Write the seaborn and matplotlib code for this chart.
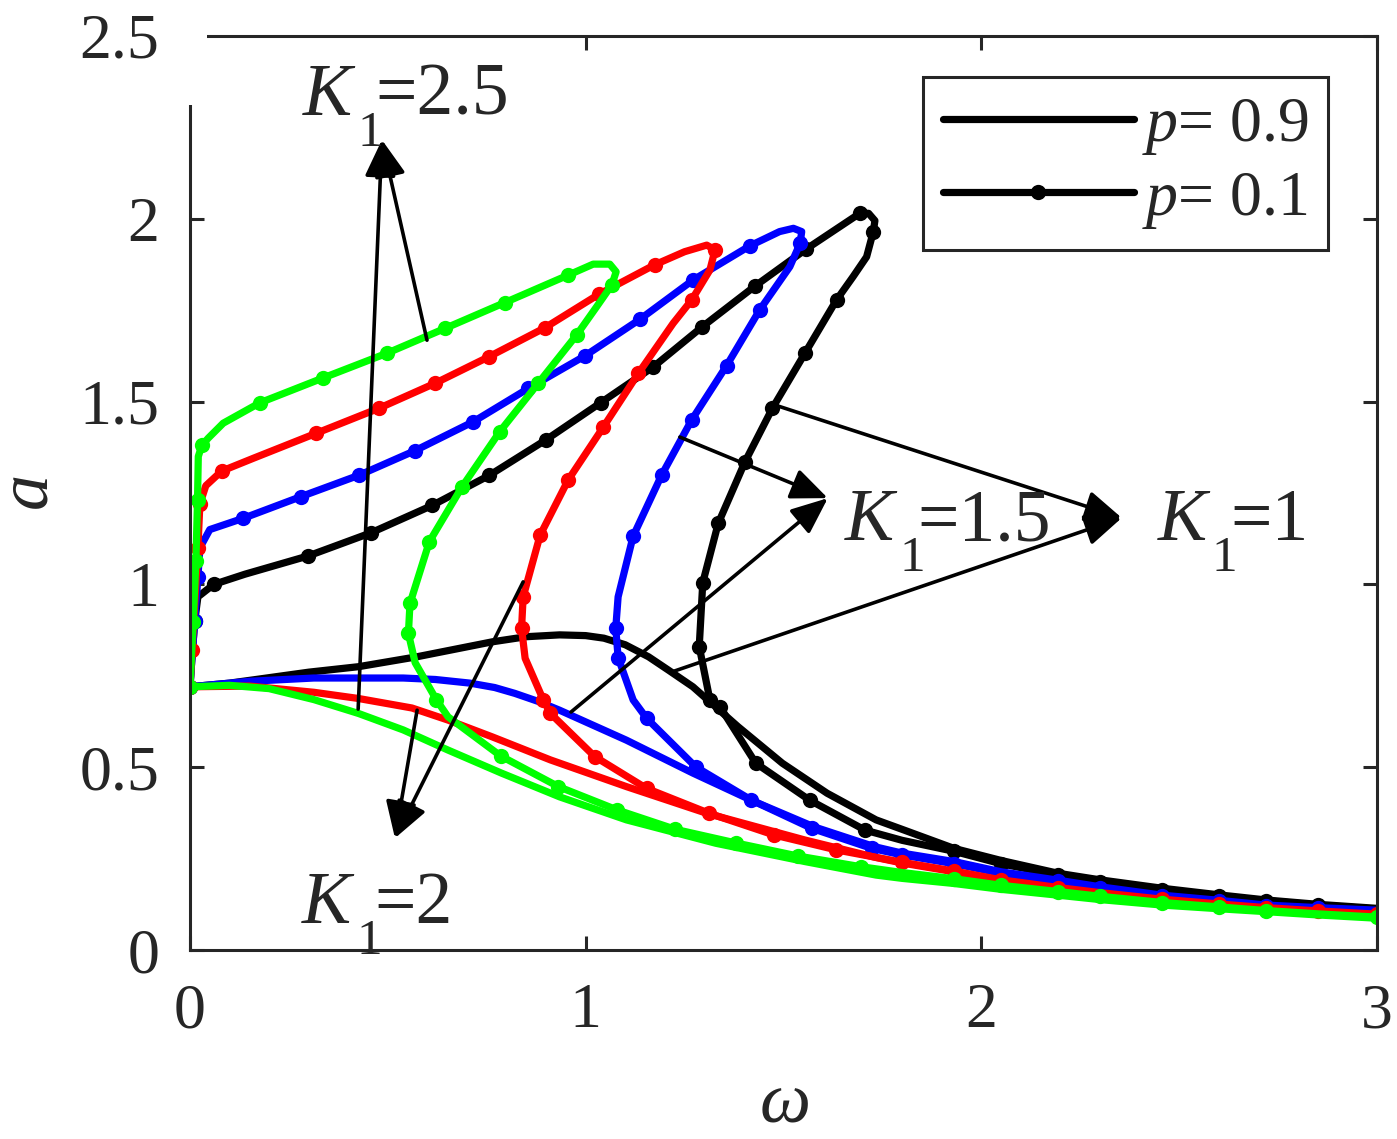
import numpy as np
import pandas as pd
import seaborn as sns
import matplotlib.pyplot as plt
from matplotlib.lines import Line2D
from matplotlib.patches import Rectangle
from matplotlib.transforms import offset_copy

# amplitude-frequency curves, p = 0.9 (plain lines)
w_k1_p9 = [0, 0.1, 0.2, 0.3, 0.426, 0.573, 0.764, 0.85, 0.934, 1.0, 1.046, 1.1, 1.159, 1.21, 1.271, 1.385, 1.497, 1.610,
           1.734, 1.8, 1.931, 2.05, 2.194, 2.3, 2.457, 2.6, 2.719, 2.85, 3.0]
a_k1_p9 = [0.72, 0.73, 0.745, 0.76, 0.775, 0.802, 0.843, 0.857, 0.862, 0.860, 0.853, 0.835, 0.802, 0.765, 0.720, 0.611,
           0.511, 0.429, 0.356, 0.330, 0.278, 0.245, 0.210, 0.192, 0.169, 0.151, 0.137, 0.125, 0.114]

w_k15_p9 = [0, 0.15, 0.313, 0.539, 0.62, 0.708, 0.77, 0.821, 0.88, 0.934, 1.103, 1.271, 1.418, 1.577, 1.729, 1.8, 1.931,
            2.05, 2.194, 2.3, 2.457, 2.6, 2.719, 2.85, 3.0]
a_k15_p9 = [0.72, 0.735, 0.744, 0.744, 0.740, 0.730, 0.718, 0.702, 0.680, 0.656, 0.574, 0.484, 0.410, 0.337, 0.283, 0.265,
            0.242, 0.214, 0.191, 0.173, 0.150, 0.136, 0.123, 0.116, 0.109]

w_k2_p9 = [0, 0.15, 0.313, 0.426, 0.561, 0.652, 0.764, 0.911, 1.103, 1.306, 1.554, 1.734, 1.8, 1.931, 2.05, 2.194, 2.3,
           2.457, 2.6, 2.719, 2.85, 3.0]
a_k2_p9 = [0.72, 0.722, 0.705, 0.688, 0.662, 0.629, 0.583, 0.520, 0.447, 0.374, 0.301, 0.253, 0.238, 0.214, 0.190, 0.169,
           0.155, 0.137, 0.124, 0.114, 0.105, 0.096]

w_k25_p9 = [0, 0.1, 0.2, 0.313, 0.426, 0.539, 0.652, 0.787, 0.934, 1.103, 1.329, 1.554, 1.734, 1.8, 1.931, 2.05, 2.194,
            2.3, 2.457, 2.6, 2.719, 2.85, 3.0]
a_k25_p9 = [0.72, 0.724, 0.715, 0.685, 0.647, 0.602, 0.547, 0.484, 0.419, 0.356, 0.292, 0.242, 0.205, 0.196, 0.182, 0.166,
            0.150, 0.138, 0.123, 0.113, 0.105, 0.096, 0.087]

# p = 0.1 (line with dots), each traced along the whole loop
w_k1_p1 = [0, 0.005, 0.012, 0.02, 0.06, 0.139, 0.299, 0.457, 0.612, 0.756, 0.899, 1.038, 1.171, 1.295, 1.428, 1.557, 1.693,
           1.715, 1.731, 1.727, 1.710, 1.676, 1.634, 1.554, 1.472, 1.403, 1.335, 1.296, 1.287, 1.314, 1.339, 1.430, 1.566,
           1.706, 1.8, 1.931, 2.05, 2.194, 2.3, 2.457, 2.6, 2.719, 2.85, 3.0]
a_k1_p1 = [0.72, 0.80, 0.90, 0.966, 1.0, 1.028, 1.078, 1.141, 1.216, 1.298, 1.395, 1.497, 1.595, 1.705, 1.816, 1.917, 2.015,
           2.015, 1.995, 1.965, 1.896, 1.842, 1.778, 1.632, 1.482, 1.336, 1.167, 1.005, 0.830, 0.684, 0.666, 0.511, 0.410,
           0.328, 0.300, 0.270, 0.236, 0.205, 0.187, 0.165, 0.148, 0.135, 0.123, 0.112]

w_k15_p1 = [0, 0.005, 0.012, 0.02, 0.025, 0.05, 0.135, 0.28, 0.428, 0.569, 0.716, 0.855, 0.998, 1.137, 1.272, 1.415, 1.49,
            1.525, 1.546, 1.542, 1.516, 1.440, 1.356, 1.268, 1.192, 1.120, 1.082, 1.076, 1.082, 1.120, 1.154, 1.278, 1.419,
            1.571, 1.723, 1.8, 1.931, 2.05, 2.194, 2.3, 2.457, 2.6, 2.719, 2.85, 3.0]
a_k15_p1 = [0.72, 0.80, 0.90, 1.02, 1.10, 1.15, 1.181, 1.240, 1.299, 1.366, 1.445, 1.536, 1.625, 1.725, 1.833, 1.926, 1.965,
            1.974, 1.965, 1.933, 1.869, 1.751, 1.598, 1.450, 1.299, 1.132, 0.966, 0.88, 0.800, 0.684, 0.634, 0.501, 0.410,
            0.333, 0.278, 0.260, 0.236, 0.210, 0.188, 0.170, 0.148, 0.134, 0.121, 0.114, 0.107]

w_k2_p1 = [0, 0.005, 0.012, 0.02, 0.025, 0.04, 0.08, 0.160, 0.318, 0.478, 0.619, 0.756, 0.897, 1.034, 1.174, 1.25, 1.306,
           1.327, 1.314, 1.268, 1.221, 1.133, 1.045, 0.956, 0.885, 0.842, 0.838, 0.847, 0.893, 0.911, 1.023, 1.154, 1.312,
           1.475, 1.633, 1.8, 1.931, 2.05, 2.194, 2.3, 2.457, 2.6, 2.719, 2.85, 3.0]
a_k2_p1 = [0.72, 0.82, 0.95, 1.10, 1.22, 1.27, 1.31, 1.345, 1.413, 1.482, 1.550, 1.623, 1.702, 1.794, 1.874, 1.91, 1.928,
           1.915, 1.860, 1.778, 1.714, 1.577, 1.431, 1.286, 1.135, 0.966, 0.88, 0.798, 0.684, 0.647, 0.529, 0.442, 0.374,
           0.315, 0.274, 0.240, 0.216, 0.192, 0.171, 0.157, 0.139, 0.126, 0.116, 0.107, 0.098]

w_k25_p1 = [0, 0.008, 0.015, 0.019, 0.021, 0.03, 0.046, 0.084, 0.177, 0.337, 0.497, 0.644, 0.796, 0.956, 1.019, 1.061,
            1.077, 1.066, 1.028, 0.977, 0.880, 0.783, 0.687, 0.605, 0.556, 0.552, 0.569, 0.623, 0.652, 0.785, 0.931, 1.080,
            1.227, 1.379, 1.537, 1.695, 1.8, 1.931, 2.05, 2.194, 2.3, 2.457, 2.6, 2.719, 2.85, 3.0]
a_k25_p1 = [0.72, 0.898, 1.065, 1.231, 1.35, 1.38, 1.40, 1.441, 1.497, 1.565, 1.632, 1.700, 1.771, 1.846, 1.876, 1.876,
            1.855, 1.819, 1.760, 1.682, 1.550, 1.418, 1.266, 1.117, 0.948, 0.866, 0.786, 0.684, 0.638, 0.531, 0.447, 0.383,
            0.330, 0.293, 0.257, 0.228, 0.212, 0.195, 0.177, 0.160, 0.147, 0.130, 0.118, 0.108, 0.099, 0.090]

k1_colors = ["k", (0, 0, 1), (1, 0, 0), (0, 1, 0)]
solid = [(w_k1_p9, a_k1_p9), (w_k15_p9, a_k15_p9), (w_k2_p9, a_k2_p9), (w_k25_p9, a_k25_p9)]
dotted = [(w_k1_p1, a_k1_p1), (w_k15_p1, a_k15_p1), (w_k2_p1, a_k2_p1), (w_k25_p1, a_k25_p1)]

sns.set_style("ticks")
plt.rcParams["font.family"] = ["Liberation Serif", "DejaVu Serif"]
plt.rcParams["mathtext.fontset"] = "custom"
plt.rcParams["mathtext.rm"] = "Liberation Serif"
plt.rcParams["mathtext.it"] = "Liberation Serif:italic"

fig, ax = plt.subplots(figsize=(13.97, 11.39), dpi=100)
fig.subplots_adjust(left=0.136, right=0.9857, top=0.9684, bottom=0.1659)

lw = 5.2
ms = 11
for (ws, as_), (wd, ad), c in zip(solid, dotted, k1_colors):
    sns.lineplot(x=ws, y=as_, sort=False, estimator=None, color=c, lw=lw, ax=ax)
    sns.lineplot(x=wd, y=ad, sort=False, estimator=None, color=c, lw=lw, ax=ax,
                 marker="o", markersize=ms, markeredgewidth=0, markevery=0.04)

ax.set_xlim(0, 3)
ax.set_ylim(0, 2.5)
ax.set_xticks([0, 1, 2, 3])
ax.set_xticklabels(["0", "1", "2", "3"])
ax.set_yticks([0, 0.5, 1, 1.5, 2, 2.5])
ax.set_yticklabels(["0", "0.5", "1", "1.5", "2", "2.5"])
ax.tick_params(direction="in", length=10, width=2.2, top=True, right=True,
               labelsize=46, colors="#262626", pad=22)
ax.tick_params(axis="x", pad=24)
for s in ax.spines.values():
    s.set_linewidth(2.2)
    s.set_color("#262626")
ax.set_xlabel(r"$\omega$", fontsize=52, color="#262626", labelpad=22)
ax.set_ylabel(r"$a$", fontsize=52, color="#262626", labelpad=12)

# odd white corner in the original figure
ax.add_patch(Rectangle((-0.012, 0.9245), 0.026, 0.08, transform=ax.transAxes,
                       facecolor="white", edgecolor="none", zorder=5, clip_on=False))

# annotations: K1 labels with two arrows each
arrows = [
    ((0.485, 2.216), [(0.425, 0.659), (0.599, 1.668)]),
    ((1.612, 1.236), [(1.238, 1.403), (0.963, 0.651)]),
    ((2.355, 1.182), [(1.486, 1.488), (1.216, 0.760)]),
    ((0.518, 0.306), [(0.574, 0.656), (0.842, 1.007)]),
]
for tip, starts in arrows:
    for st in starts:
        ax.annotate("", xy=tip, xytext=st,
                    arrowprops=dict(arrowstyle="-|>,head_length=0.9,head_width=0.38",
                                    mutation_scale=25, lw=2.6, color="k",
                                    shrinkA=0, shrinkB=0), zorder=6)

labels_pos = [(0.286, 2.284, "2.5"), (1.655, 1.121, "1.5"), (2.446, 1.121, "1"), (0.283, 0.074, "2")]
for x, y, k in labels_pos:
    ax.text(x, y, "K", fontsize=53, style="italic", ha="left", va="baseline", zorder=7)
    ax.text(x, y, "1", fontsize=37, ha="left", va="baseline", zorder=7,
            transform=offset_copy(ax.transData, fig=fig, x=39, y=-22, units="points"))
    ax.text(x, y, "=" + k, fontsize=53, ha="left", va="baseline", zorder=7,
            transform=offset_copy(ax.transData, fig=fig, x=52, y=0, units="points"))

handles = [Line2D([0], [0], color="k", lw=lw),
           Line2D([0], [0], color="k", lw=lw, marker="o", markersize=ms, markeredgewidth=0)]
leg = ax.legend(handles, [r"$p$= 0.9", r"$p$= 0.1"], loc="upper right",
                bbox_to_anchor=(0.9587, 0.955), borderaxespad=0, fontsize=46,
                numpoints=1, handlelength=3.0, handletextpad=0.12, borderpad=0.3,
                labelspacing=0.2, fancybox=False, framealpha=1)
leg.get_frame().set_edgecolor("#262626")
leg.get_frame().set_linewidth(2.2)

plt.savefig("out.png", dpi=100)
